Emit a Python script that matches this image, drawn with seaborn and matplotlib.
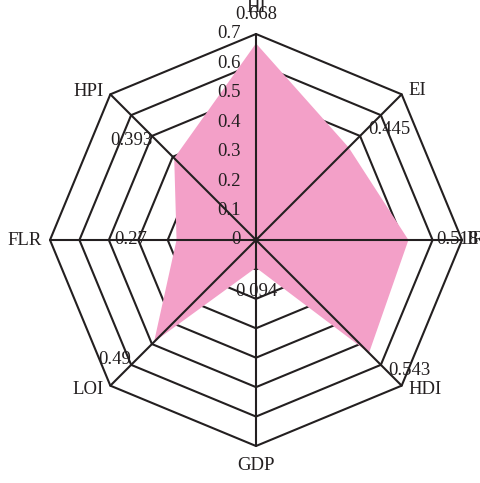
import numpy as np
import matplotlib
matplotlib.use("Agg")
import matplotlib.pyplot as plt
import seaborn as sns

sns.set_style("white")
plt.rcParams['font.family'] = ['Liberation Serif', 'DejaVu Serif']

# data
categories = ['HI', 'EI', 'IR', 'HDI', 'GDP', 'LOI', 'FLR', 'HPI']
values = [0.668, 0.445, 0.518, 0.543, 0.094, 0.49, 0.27, 0.393]
value_labels = ['0.668', '0.445', '0.518', '0.543', '0.094', '0.49', '0.27', '0.393']
ring_levels = [0.1, 0.2, 0.3, 0.4, 0.5, 0.6, 0.7]
tick_labels = ['0', '0.1', '0.2', '0.3', '0.4', '0.5', '0.6', '0.7']

# value label offsets (pixels) of text centre from the data point
VALUE_OFFSETS = [(0, 29), (41, 18), (49, 0), (40, -18), (0, -24), (-39, -18), (-46, 0), (-43, 18)]
# name offsets (pixels) from outer vertex, with alignment
NAME_OFFSETS = [(0, 27, 'center'), (7, 4, 'left'), (4, 0, 'left'), (7, -4, 'left'),
                (0, -20, 'center'), (-7, -4, 'right'), (-8, 0, 'right'), (-7, 3, 'right')]

LINE_COLOR = '#231f20'
FILL_COLOR = '#f3a0c8'
FS = 13.5

n = len(categories)
angles = np.linspace(0, 2 * np.pi, n, endpoint=False)
closed = np.append(angles, angles[0])

fig = plt.figure(figsize=(4.81, 4.83), dpi=100)
ax = fig.add_axes([50 / 481, 37 / 483, 412 / 481, 412 / 483], projection='polar')
ax.set_theta_offset(np.pi / 2)
ax.set_theta_direction(-1)
ax.set_ylim(0, 0.7)
ax.grid(False)
ax.spines['polar'].set_visible(False)
ax.set_xticks([])
ax.set_yticks([])
ax.patch.set_alpha(0)

# octagon rings
for lev in ring_levels:
    ax.plot(closed, [lev] * (n + 1), color=LINE_COLOR, lw=1.5, zorder=1, clip_on=False)

# filled area
ax.fill(closed, np.append(values, values[0]), color=FILL_COLOR, lw=0, zorder=2)

# spokes
for a in angles:
    ax.plot([a, a], [0, 0.7], color=LINE_COLOR, lw=1.5, zorder=3, clip_on=False)

# radial tick labels
for lev, lab in zip([0] + ring_levels, tick_labels):
    ax.annotate(lab, xy=(0, lev), xytext=(-15, 0), textcoords='offset pixels',
                ha='right', va='center', fontsize=FS, color=LINE_COLOR,
                zorder=5, annotation_clip=False)

# value labels
for a, v, lab, off in zip(angles, values, value_labels, VALUE_OFFSETS):
    ax.annotate(lab, xy=(a, v), xytext=off, textcoords='offset pixels',
                ha='center', va='center', fontsize=FS, color=LINE_COLOR,
                zorder=5, annotation_clip=False)

# category names
for a, name, (dx, dy, ha) in zip(angles, categories, NAME_OFFSETS):
    ax.annotate(name, xy=(a, 0.7), xytext=(dx, dy),
                textcoords='offset pixels', ha=ha, va='center', fontsize=FS,
                color=LINE_COLOR, zorder=5, annotation_clip=False)

fig.savefig('out.png', dpi=100, facecolor='white')
